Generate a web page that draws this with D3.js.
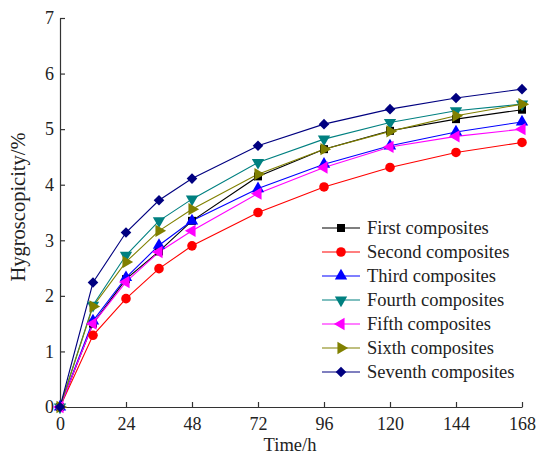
<!DOCTYPE html>
<html>
<head>
<meta charset="utf-8">
<script src="https://cdn.jsdelivr.net/npm/d3@7"></script>
<style>
  body { margin: 0; background: #fff; }
  text { font-family: "Liberation Serif", "Times New Roman", serif; fill: #222; }
</style>
</head>
<body>
<div id="chart"></div>
<script>
// time points (h)
const HOURS = [0, 12, 24, 36, 48, 72, 96, 120, 144, 168];
const X_TICKS = [0, 24, 48, 72, 96, 120, 144, 168];
const Y_TICKS = [0, 1, 2, 3, 4, 5, 6, 7];

// hygroscopicity values (%) per composite
const FIRST   = [0, 1.50, 2.30, 2.80, 3.35, 4.15, 4.64, 4.97, 5.18, 5.35];
const SECOND  = [0, 1.29, 1.95, 2.49, 2.90, 3.50, 3.96, 4.31, 4.58, 4.76];
const THIRD   = [0, 1.55, 2.33, 2.91, 3.35, 3.93, 4.37, 4.70, 4.95, 5.13];
const FOURTH  = [0, 1.83, 2.73, 3.35, 3.74, 4.40, 4.82, 5.12, 5.33, 5.45];
const FIFTH   = [0, 1.50, 2.25, 2.79, 3.17, 3.84, 4.31, 4.68, 4.87, 5.00];
const SIXTH   = [0, 1.81, 2.61, 3.17, 3.56, 4.19, 4.64, 4.96, 5.24, 5.45];
const SEVENTH = [0, 2.24, 3.14, 3.72, 4.11, 4.70, 5.09, 5.36, 5.56, 5.72];

const NAMES = ["First composites", "Second composites", "Third composites", "Fourth composites",
               "Fifth composites", "Sixth composites", "Seventh composites"];
const COLORS = ["#000000", "#ff0000", "#0000ff", "#008080", "#ff00ff", "#808000", "#000080"];
const SHAPES = ["square", "circle", "up", "down", "left", "right", "diamond"];

const series = [FIRST, SECOND, THIRD, FOURTH, FIFTH, SIXTH, SEVENTH].map((vals, i) => ({
    name: NAMES[i], color: COLORS[i], shape: SHAPES[i],
    points: vals.map((v, j) => ({ t: HOURS[j], v: v }))
}));

// layout
const W = 536, H = 457;
const MARGIN = { top: 18, right: 14, bottom: 50, left: 60 };
const innerW = W - MARGIN.left - MARGIN.right;
const innerH = H - MARGIN.top - MARGIN.bottom;

const svg = d3.select("#chart").append("svg")
    .attr("width", W).attr("height", H);
const g = svg.append("g").attr("transform", `translate(${MARGIN.left},${MARGIN.top})`);

const x = d3.scaleLinear().domain([0, 168]).range([0, innerW]);
const y = d3.scaleLinear().domain([0, 7]).range([innerH, 0]);

// marker path + rotation
function marker(sel, shape) {
    const sym = {
        square: d3.symbolSquare, circle: d3.symbolCircle, diamond: d3.symbolSquare,
        up: d3.symbolTriangle, down: d3.symbolTriangle, left: d3.symbolTriangle, right: d3.symbolTriangle
    }[shape];
    const size = { square: 64, circle: 72, diamond: 56, up: 66, down: 66, left: 66, right: 66 }[shape];
    const rot = { square: 0, circle: 0, diamond: 45, up: 0, down: 180, left: -90, right: 90 }[shape];
    sel.attr("d", d3.symbol().type(sym).size(size)())
        .attr("data-rot", rot);
}

// axes (ticks point inward)
const xAxis = g.append("g")
    .attr("transform", `translate(0,${innerH})`)
    .call(d3.axisBottom(x).tickValues(X_TICKS).tickSizeInner(-5).tickSizeOuter(0).tickPadding(10));
const yAxis = g.append("g")
    .call(d3.axisLeft(y).tickValues(Y_TICKS).tickFormat(d3.format("d"))
        .tickSizeInner(-5).tickSizeOuter(0).tickPadding(6));

[xAxis, yAxis].forEach(a => {
    a.select(".domain").attr("stroke", "#333").attr("stroke-width", 1.2);
    a.selectAll(".tick line").attr("stroke", "#333").attr("stroke-width", 1.2);
    a.selectAll(".tick text").attr("font-size", 18).attr("fill", "#222");
});

// axis titles
svg.append("text")
    .attr("x", 290).attr("y", 451)
    .attr("text-anchor", "middle").attr("font-size", 18.5)
    .text("Time/h");
svg.append("text")
    .attr("transform", "translate(25,207) rotate(-90)")
    .attr("text-anchor", "middle").attr("font-size", 20.5)
    .text("Hygroscopicity/%");

// lines + markers
const line = d3.line().x(d => x(d.t)).y(d => y(d.v));
series.forEach(s => {
    g.append("path").datum(s.points)
        .attr("d", line).attr("fill", "none")
        .attr("stroke", s.color).attr("stroke-width", 1.1);
});
series.forEach(s => {
    g.selectAll(null).data(s.points).enter().append("path")
        .call(marker, s.shape)
        .attr("transform", function(d) {
            return `translate(${x(d.t)},${y(d.v)}) rotate(${this.getAttribute("data-rot")})`;
        })
        .attr("fill", s.color);
});

// legend
const legend = svg.append("g").attr("transform", "translate(322,228)");
const rows = legend.selectAll("g").data(series).enter().append("g")
    .attr("transform", (d, i) => `translate(0,${i * 24})`);
rows.append("line")
    .attr("x1", 0).attr("x2", 38).attr("y1", 0).attr("y2", 0)
    .attr("stroke", d => d.color).attr("stroke-width", 1.1);
rows.append("path")
    .each(function(d) { d3.select(this).call(marker, d.shape); })
    .attr("transform", function() { return `translate(19,0) rotate(${this.getAttribute("data-rot")})`; })
    .attr("fill", d => d.color);
rows.append("text")
    .attr("x", 45).attr("y", 6)
    .attr("font-size", 18.5)
    .text(d => d.name);
</script>
</body>
</html>
